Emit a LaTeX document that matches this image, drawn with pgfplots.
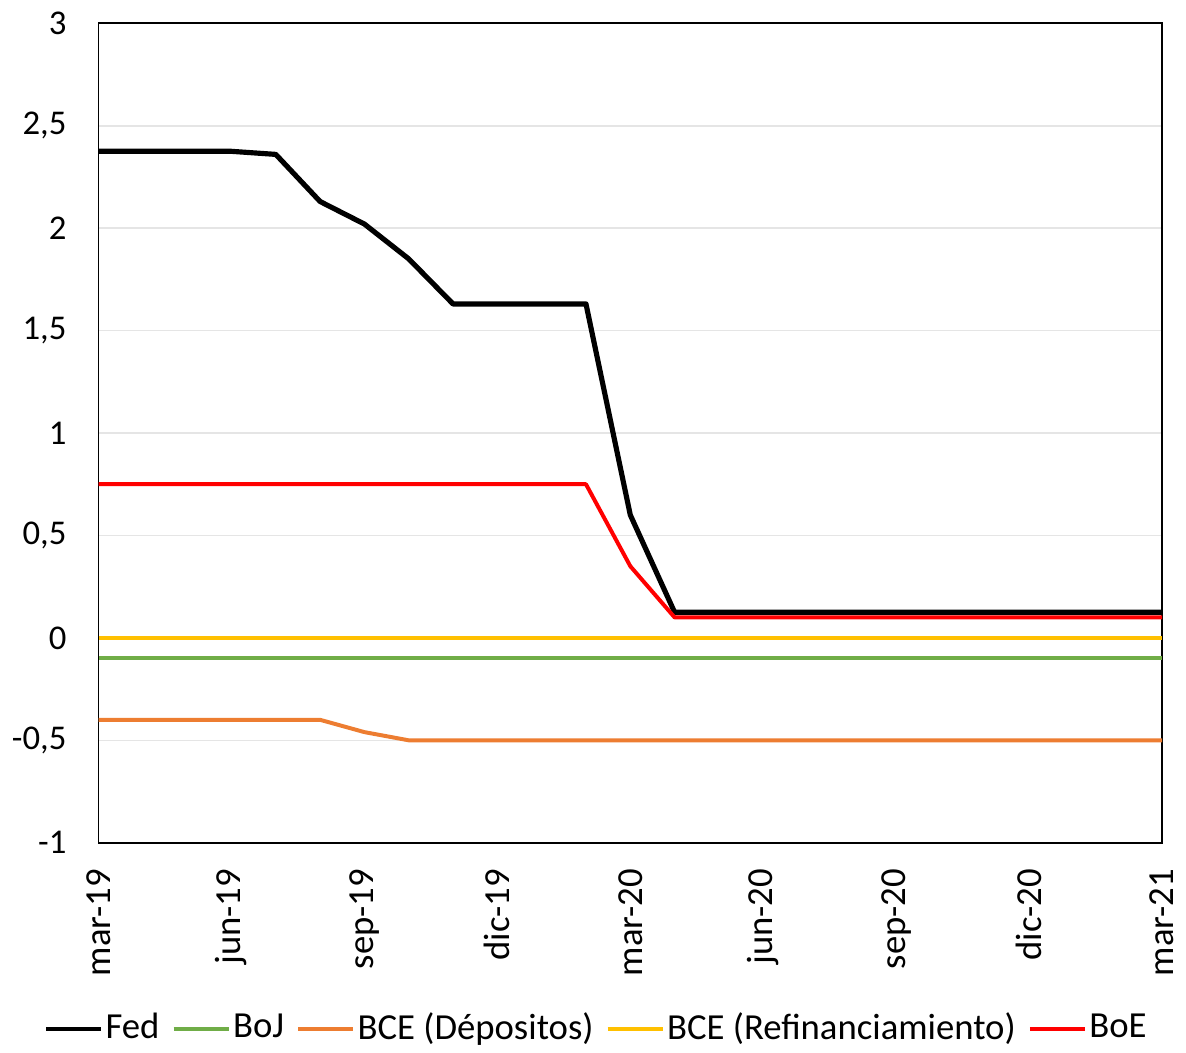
\documentclass[border=0pt]{standalone}
\usepackage{fontspec}
\setmainfont{Carlito}
\usepackage{pgfplots}
\pgfplotsset{compat=1.18}
\definecolor{fedc}{HTML}{000000}
\definecolor{bojc}{HTML}{70AD47}
\definecolor{bcedc}{HTML}{ED7D31}
\definecolor{bcerc}{HTML}{FFC000}
\definecolor{boec}{HTML}{FF0000}
\begin{document}
\fontsize{18}{21}\selectfont
\begin{tikzpicture}
\begin{axis}[
    width=536pt, height=413pt, scale only axis,
    xmin=0, xmax=24, ymin=-1, ymax=3,
    xtick={0,3,...,24},
    xticklabels={mar-19,jun-19,sep-19,dic-19,mar-20,jun-20,sep-20,dic-20,mar-21},
    xticklabel style={rotate=90, anchor=east, font=\fontsize{18.5}{21}\selectfont},
    xticklabel shift=7pt,
    ytick={-1,-0.5,0,0.5,1,1.5,2,2.5,3},
    yticklabels={{-1},{-0,5},{0},{0,5},{1},{1,5},{2},{2,5},{3}},
    yticklabel style={font=\fontsize{17.5}{20}\selectfont},
    yticklabel shift=10pt,
    major tick length=0pt,
    ymajorgrids, grid style={line width=0.8pt, color=gray!20},
    axis line style={line width=0.8pt, black},
    legend columns=5,
    legend style={at={(0.468,-0.227)}, anchor=center, draw=none,
        font=\fontsize{18.5}{21}\selectfont,
        nodes={inner xsep=1pt},
        /tikz/every even column/.append style={column sep=5pt}},
    legend cell align=left,
    legend image code/.code={\draw[#1, line width=2.2pt] (0cm,0cm) -- (0.98cm,0cm);},
    every axis plot/.append style={line join=round},
]
\addplot[fedc, line width=2.6pt] coordinates {
 (0,2.375) (1,2.375) (2,2.375) (3,2.375) (4,2.36) (5,2.13) (6,2.02) (7,1.85)
 (8,1.63) (9,1.63) (10,1.63) (11,1.63) (12,0.60) (13,0.125) (14,0.125) (15,0.125)
 (16,0.125) (17,0.125) (18,0.125) (19,0.125) (20,0.125) (21,0.125) (22,0.125) (23,0.125) (24,0.125)
};
\addlegendentry{Fed}
\addplot[bojc, line width=2pt] coordinates {(0,-0.1) (24,-0.1)};
\addlegendentry{BoJ}
\addplot[bcedc, line width=2pt] coordinates {
 (0,-0.4) (1,-0.4) (2,-0.4) (3,-0.4) (4,-0.4) (5,-0.4) (6,-0.46) (7,-0.5)
 (8,-0.5) (12,-0.5) (16,-0.5) (20,-0.5) (24,-0.5)
};
\addlegendentry{BCE (Dépositos)}
\addplot[bcerc, line width=2pt] coordinates {(0,0) (24,0)};
\addlegendentry{BCE (Refinanciamiento)}
\addplot[boec, line width=2pt] coordinates {
 (0,0.75) (3,0.75) (6,0.75) (9,0.75) (11,0.75) (12,0.35) (13,0.1) (14,0.1)
 (18,0.1) (24,0.1)
};
\addlegendentry{BoE}
\end{axis}
\end{tikzpicture}
\end{document}
